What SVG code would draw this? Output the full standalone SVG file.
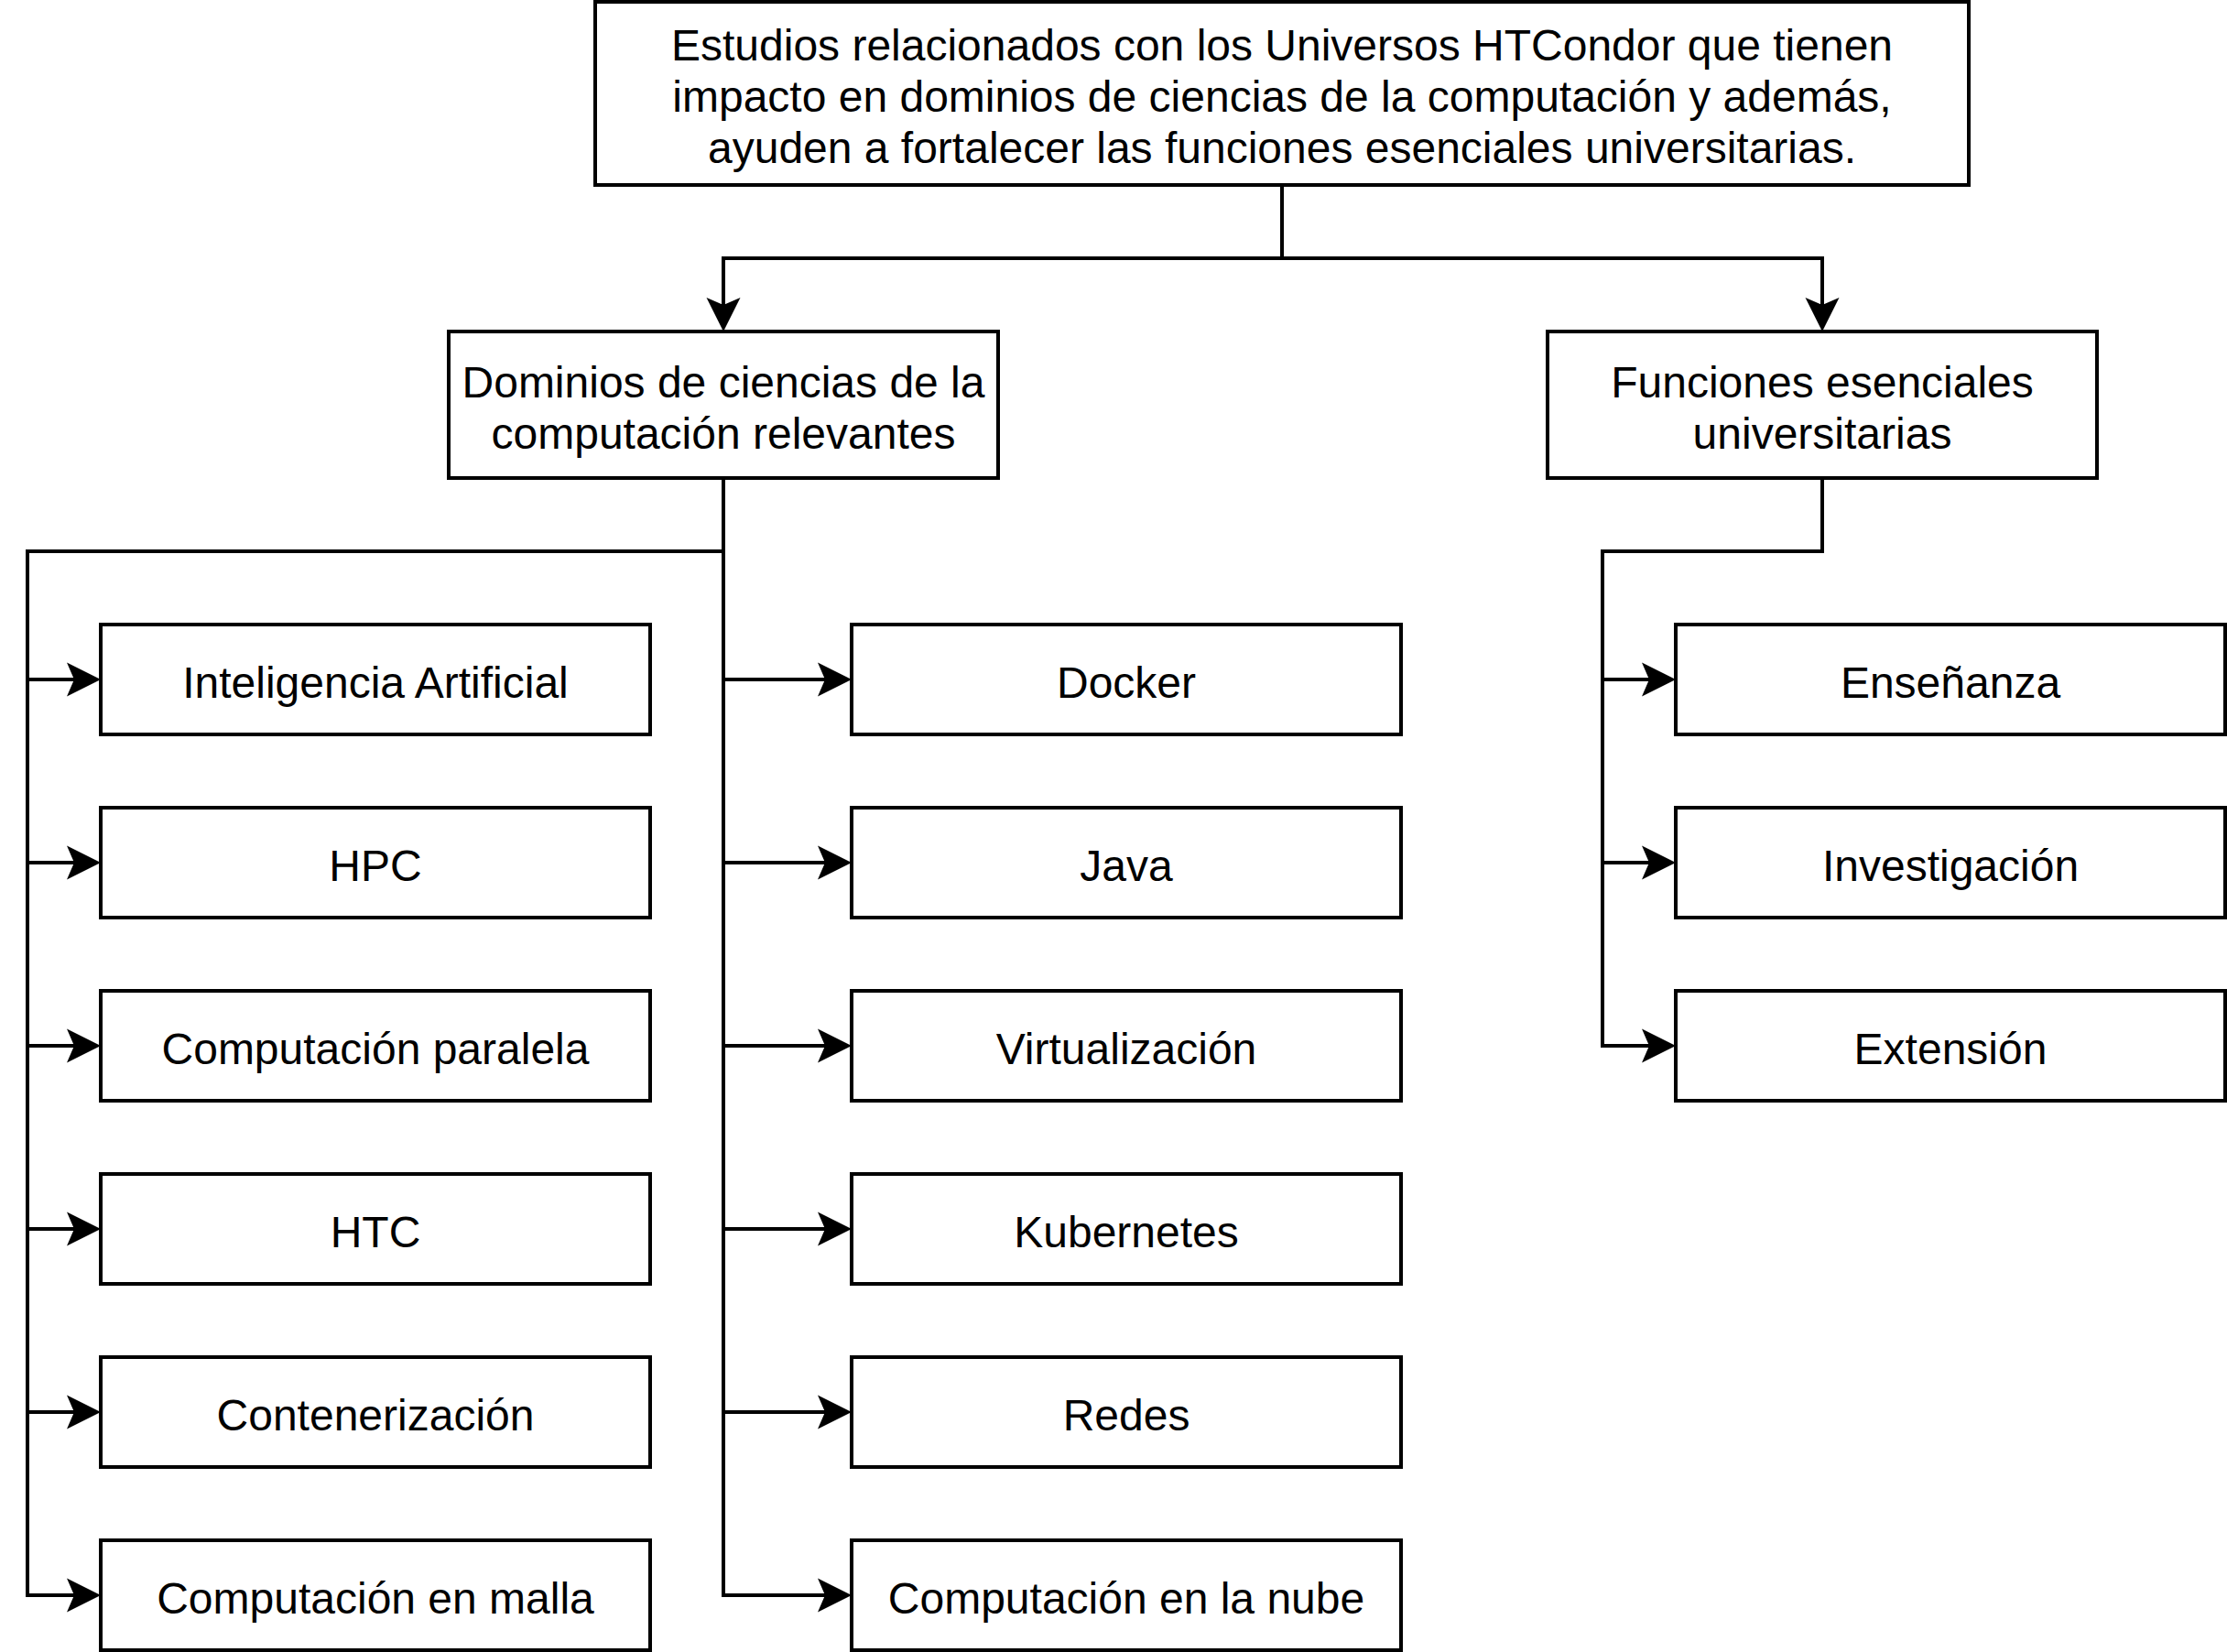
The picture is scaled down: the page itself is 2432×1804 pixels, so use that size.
<svg xmlns="http://www.w3.org/2000/svg" width="2432" height="1804" viewBox="0 0 2432 1804">
<style>
.box{fill:#ffffff;stroke:#000000;stroke-width:4}
.lbl{font-family:"Liberation Sans",Arial,Helvetica,sans-serif;font-size:48px;fill:#000000;text-anchor:middle}
.edge{fill:none;stroke:#000000;stroke-width:4;marker-end:url(#arr)}
</style>
<defs>
<marker id="arr" markerUnits="userSpaceOnUse" markerWidth="40" markerHeight="40" viewBox="-38 -20 40 40" refX="-29" refY="0" orient="auto">
<path d="M0,0 L-37,-18.5 L-29,0 L-37,18.5 Z" fill="#000000"/>
</marker>
</defs>
<rect width="2432" height="1804" fill="#ffffff"/>
<g id="connectors">
<path class="edge" d="M1400,202 V282 H790 V333"/>
<path class="edge" d="M1400,202 V282 H1990 V333"/>
<path class="edge" d="M790,522 V602 H30 V742 H81"/>
<path class="edge" d="M790,522 V602 H30 V942 H81"/>
<path class="edge" d="M790,522 V602 H30 V1142 H81"/>
<path class="edge" d="M790,522 V602 H30 V1342 H81"/>
<path class="edge" d="M790,522 V602 H30 V1542 H81"/>
<path class="edge" d="M790,522 V602 H30 V1742 H81"/>
<path class="edge" d="M790,522 V742 H901"/>
<path class="edge" d="M790,522 V942 H901"/>
<path class="edge" d="M790,522 V1142 H901"/>
<path class="edge" d="M790,522 V1342 H901"/>
<path class="edge" d="M790,522 V1542 H901"/>
<path class="edge" d="M790,522 V1742 H901"/>
<path class="edge" d="M1990,522 V602 H1750 V742 H1801"/>
<path class="edge" d="M1990,522 V602 H1750 V942 H1801"/>
<path class="edge" d="M1990,522 V602 H1750 V1142 H1801"/>
</g>
<g id="root">
<rect class="box" x="650" y="2" width="1500" height="200"/>
<text class="lbl" x="1400" y="65.5">Estudios relacionados con los Universos HTCondor que tienen</text>
<text class="lbl" x="1400" y="121.5">impacto en dominios de ciencias de la computación y además,</text>
<text class="lbl" x="1400" y="177.5">ayuden a fortalecer las funciones esenciales universitarias.</text>
</g>
<g id="dominios">
<rect class="box" x="490" y="362" width="600" height="160"/>
<text class="lbl" x="790" y="433.5">Dominios de ciencias de la</text>
<text class="lbl" x="790" y="489.5">computación relevantes</text>
</g>
<g id="funciones">
<rect class="box" x="1690" y="362" width="600" height="160"/>
<text class="lbl" x="1990" y="433.5">Funciones esenciales</text>
<text class="lbl" x="1990" y="489.5">universitarias</text>
</g>
<g id="ia"><rect class="box" x="110" y="682" width="600" height="120"/><text class="lbl" x="410" y="761.5">Inteligencia Artificial</text></g>
<g id="hpc"><rect class="box" x="110" y="882" width="600" height="120"/><text class="lbl" x="410" y="961.5">HPC</text></g>
<g id="paralela"><rect class="box" x="110" y="1082" width="600" height="120"/><text class="lbl" x="410" y="1161.5">Computación paralela</text></g>
<g id="htc"><rect class="box" x="110" y="1282" width="600" height="120"/><text class="lbl" x="410" y="1361.5">HTC</text></g>
<g id="contenerizacion"><rect class="box" x="110" y="1482" width="600" height="120"/><text class="lbl" x="410" y="1561.5">Contenerización</text></g>
<g id="malla"><rect class="box" x="110" y="1682" width="600" height="120"/><text class="lbl" x="410" y="1761.5">Computación en malla</text></g>
<g id="docker"><rect class="box" x="930" y="682" width="600" height="120"/><text class="lbl" x="1230" y="761.5">Docker</text></g>
<g id="java"><rect class="box" x="930" y="882" width="600" height="120"/><text class="lbl" x="1230" y="961.5">Java</text></g>
<g id="virtualizacion"><rect class="box" x="930" y="1082" width="600" height="120"/><text class="lbl" x="1230" y="1161.5">Virtualización</text></g>
<g id="kubernetes"><rect class="box" x="930" y="1282" width="600" height="120"/><text class="lbl" x="1230" y="1361.5">Kubernetes</text></g>
<g id="redes"><rect class="box" x="930" y="1482" width="600" height="120"/><text class="lbl" x="1230" y="1561.5">Redes</text></g>
<g id="nube"><rect class="box" x="930" y="1682" width="600" height="120"/><text class="lbl" x="1230" y="1761.5">Computación en la nube</text></g>
<g id="ensenanza"><rect class="box" x="1830" y="682" width="600" height="120"/><text class="lbl" x="2130" y="761.5">Enseñanza</text></g>
<g id="investigacion"><rect class="box" x="1830" y="882" width="600" height="120"/><text class="lbl" x="2130" y="961.5">Investigación</text></g>
<g id="extension"><rect class="box" x="1830" y="1082" width="600" height="120"/><text class="lbl" x="2130" y="1161.5">Extensión</text></g>
</svg>
